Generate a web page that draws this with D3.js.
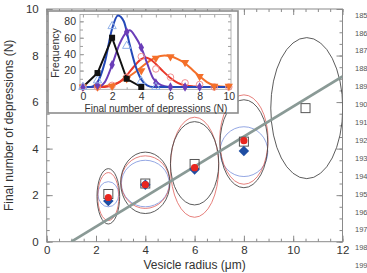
<!DOCTYPE html>
<html lang="en">
<head>
<meta charset="UTF-8">
<title>Depressions vs vesicle radius</title>
<script src="https://cdn.jsdelivr.net/npm/d3@7"></script>
<style>
body{margin:0;background:#fff}
svg{display:block;font-family:"Liberation Sans",Arial,sans-serif}
</style>
</head>
<body>
<svg id="chart" width="367" height="273"></svg>
<script>
// ---- main panel data ----
var radii=[2.5,4,6,8,10.5]
var squareN=[2.05,2.5,3.34,4.3,5.74]
var fitRadii=[2.5,4,6,8]
var redN=[1.9,2.45,3.18,4.34]
var blueN=[1.75,2.45,3.1,3.9]
var fitLineX=[1,12], fitLineY=[0,7.1]

// error ellipses: centre, half-width, half-height (data units)
var blackEllX=[2.5,4,6,8,10.55], blackEllY=[1.95,2.53,3.37,4.21,5.74]
var blackEllRx=[0.46,1.0,0.98,0.97,1.46], blackEllRy=[1.19,1.32,1.79,1.89,3.03]
var redEllX=[2.5,4,6,8], redEllY=[1.94,2.56,3.2,4.39]
var redEllRx=[0.43,0.99,0.98,0.98], redEllRy=[1.03,1.13,2.15,1.92]
var blueEllX=[2.5,4,8], blueEllY=[2.04,2.5,3.87]
var blueEllRx=[0.42,0.97,0.97], blueEllRy=[0.54,1.0,1.07]

var mainXTicks=[0,2,4,6,8,10,12], mainYTicks=[0,2,4,6,8,10]
var lineNums=[185,186,187,188,189,190,191,192,193,194,195,196,197,198,199]

// ---- inset data ----
var insetXTicks=[0,2,4,6,8,10], insetYTicks=[0,20,40,60,80]
var blackPtsX=[0,1,2,3,4], blackPtsY=[0,17,60,10,0]
var blueCurveX=[0,0.5,1,1.5,2,2.4,2.8,3.2,3.6,4,4.4,4.8,5,10]
var blueCurveY=[0,0,6,30,71,87,80,52,26,9,2,0,0,0]
var blueMkX=[0,1,2,3,4,5], blueMkY=[0,8,74,50,7,0]
var purpleCurveX=[0,1,1.5,2,2.5,3,3.2,3.6,4,4.4,4.8,5.2,5.6,6,10]
var purpleCurveY=[0,0,6,27,52,67,69,61,48,29,11,4,1,0,0]
var purpleMkX=[0,1,2,3,4,5,6,7,8], purpleMkY=[0,2,27,67,48,5,0,0,0]
var redCurveX=[0,1.5,2,2.5,3,3.5,4,4.3,4.6,5,5.5,6,6.5,7,7.5,8,10]
var redCurveY=[0,0,2,6,14,25,34,36,34,28,19,11,5,2,1,0,0]
var redMkX=[0,1,2,3,4,5,6,7,8,9,10], redMkY=[0,0,2,12,37,22,12,5,3,0,0]
var orangeCurveX=[0,1,1.5,2,2.5,3,3.5,4,4.5,5,5.6,6,6.5,7,7.5,8,8.5,9,9.5,10]
var orangeCurveY=[0,0,1,3,6,11,17,24,31,36,38.5,37.5,34,29,21,13,6,2,0.5,0]
var orangeMkX=[0,1,2,3,4,5,6,7,8,9,10], orangeMkY=[0,0,1,10,20,35,37,30,13,1,1]

var svg=d3.select('#chart')
var x=d3.scaleLinear().domain([0,12]).range([46.7,342.5])
var y=d3.scaleLinear().domain([0,10]).range([241.7,9])
var frame='#8a8a8a', tickTxt='#333'

var zip=(a,b)=>a.map((v,i)=>[v,b[i]])

svg.append('clipPath').attr('id','mainclip').append('rect')
  .attr('x',x(0)).attr('y',y(10)).attr('width',x(12)-x(0)).attr('height',y(0)-y(10))

// axes, ticks pointing inward
function styleAxis(g){
  g.select('.domain').remove()
  g.selectAll('.tick line').attr('stroke',frame)
  g.selectAll('.tick text').attr('fill',tickTxt).attr('font-size',11.5)
}
var minorX=d3.range(0,12.01,0.5), minorY=d3.range(0,10.01,0.5)
svg.append('g').attr('transform',`translate(0,${y(0)})`)
  .call(d3.axisBottom(x).tickValues(minorX).tickSize(-3).tickFormat('')).call(styleAxis)
svg.append('g').attr('transform',`translate(0,${y(0)})`)
  .call(d3.axisBottom(x).tickValues(mainXTicks).tickSize(-6).tickPadding(4).tickFormat(d3.format('d'))).call(styleAxis)
svg.append('g').attr('transform',`translate(0,${y(10)})`)
  .call(d3.axisTop(x).tickValues(minorX).tickSize(-3).tickFormat('')).call(styleAxis)
svg.append('g').attr('transform',`translate(0,${y(10)})`)
  .call(d3.axisTop(x).tickValues(mainXTicks).tickSize(-6).tickFormat('')).call(styleAxis)
svg.append('g').attr('transform',`translate(${x(0)},0)`)
  .call(d3.axisLeft(y).tickValues(minorY).tickSize(-3).tickFormat('')).call(styleAxis)
svg.append('g').attr('transform',`translate(${x(0)},0)`)
  .call(d3.axisLeft(y).tickValues(mainYTicks).tickSize(-6).tickPadding(8).tickFormat(d3.format('d'))).call(styleAxis)
svg.append('g').attr('transform',`translate(${x(12)},0)`)
  .call(d3.axisRight(y).tickValues(minorY).tickSize(-3).tickFormat('')).call(styleAxis)
svg.append('g').attr('transform',`translate(${x(12)},0)`)
  .call(d3.axisRight(y).tickValues(mainYTicks).tickSize(-6).tickFormat('')).call(styleAxis)
svg.append('rect').attr('x',x(0)).attr('y',y(10)).attr('width',x(12)-x(0)).attr('height',y(0)-y(10))
  .attr('fill','none').attr('stroke',frame).attr('stroke-width',1)

svg.append('text').attr('x',(x(0)+x(12))/2).attr('y',268.5).attr('text-anchor','middle')
  .attr('font-size',12).attr('fill',tickTxt).text('Vesicle radius (μm)')
svg.append('text').attr('transform',`translate(13,${(y(0)+y(10))/2}) rotate(-90)`).attr('text-anchor','middle')
  .attr('font-size',12).attr('fill',tickTxt).text('Final number of depressions (N)')

var plot=svg.append('g').attr('clip-path','url(#mainclip)')

function ellipses(cx,cy,rx,ry,color,w){
  plot.selectAll(null).data(cx.map((v,i)=>({cx:v,cy:cy[i],rx:rx[i],ry:ry[i]}))).join('ellipse')
    .attr('cx',d=>x(d.cx)).attr('cy',d=>y(d.cy))
    .attr('rx',d=>x(d.cx+d.rx)-x(d.cx)).attr('ry',d=>y(d.cy)-y(d.cy+d.ry))
    .attr('fill','none').attr('stroke',color).attr('stroke-width',w)
}
ellipses(blueEllX,blueEllY,blueEllRx,blueEllRy,'#7890dc',0.8)
ellipses(redEllX,redEllY,redEllRx,redEllRy,'#e0605a',0.8)
ellipses(blackEllX,blackEllY,blackEllRx,blackEllRy,'#4a4a4a',0.9)

plot.append('path').datum(zip(fitLineX,fitLineY)).attr('d',d3.line().x(d=>x(d[0])).y(d=>y(d[1])))
  .attr('stroke','#8a9a96').attr('stroke-width',2.6).attr('fill','none')

plot.selectAll(null).data(zip(radii,squareN)).join('rect')
  .attr('x',d=>x(d[0])-4.5).attr('y',d=>y(d[1])-4.5).attr('width',9).attr('height',9)
  .attr('fill','none').attr('stroke','#555').attr('stroke-width',1)
plot.selectAll(null).data(zip(fitRadii,blueN)).join('path')
  .attr('transform',d=>`translate(${x(d[0])},${y(d[1])})`)
  .attr('d',d3.symbol(d3.symbolDiamond2,70)).attr('fill','#1f4ea3')
plot.selectAll(null).data(zip(fitRadii,redN)).join('circle')
  .attr('cx',d=>x(d[0])).attr('cy',d=>y(d[1])).attr('r',3.6).attr('fill','#e8261f')

// line numbers at right margin
var ln=d3.scaleLinear().domain([185,199]).range([15,265.6])
svg.selectAll(null).data(lineNums).join('text')
  .attr('x',355).attr('y',d=>ln(d)).attr('dy','0.35em').attr('font-size',7.5).attr('fill','#555').text(d=>d)

// ---- inset ----
var ins=svg.append('g')
ins.append('rect').attr('x',48).attr('y',11).attr('width',190).attr('height',102)
  .attr('fill','#fff').attr('stroke','#8c8c8c').attr('stroke-width',1.6)
var ix=d3.scaleLinear().domain([-0.2,10.15]).range([80,231])
var iy=d3.scaleLinear().domain([-2.8,88.3]).range([89.3,14.5])
var iframe='#a0a0a0'
function styleI(g){
  g.select('.domain').remove()
  g.selectAll('.tick line').attr('stroke',iframe)
  g.selectAll('.tick text').attr('fill',tickTxt).attr('font-size',10.5)
}
var iMinorX=d3.range(0,10.01,1), iMinorY=d3.range(0,80.01,10)
ins.append('g').attr('transform',`translate(0,${iy.range()[0]})`)
  .call(d3.axisBottom(ix).tickValues(iMinorX).tickSize(-2).tickFormat('')).call(styleI)
ins.append('g').attr('transform',`translate(0,${iy.range()[0]})`)
  .call(d3.axisBottom(ix).tickValues(insetXTicks).tickSize(-4).tickPadding(3).tickFormat(d3.format('d'))).call(styleI)
ins.append('g').attr('transform',`translate(0,${iy.range()[1]})`)
  .call(d3.axisTop(ix).tickValues(iMinorX).tickSize(-3).tickFormat('')).call(styleI)
ins.append('g').attr('transform',`translate(${ix.range()[0]},0)`)
  .call(d3.axisLeft(iy).tickValues(iMinorY).tickSize(-3).tickFormat('')).call(styleI)
ins.append('g').attr('transform',`translate(${ix.range()[0]},0)`)
  .call(d3.axisLeft(iy).tickValues(insetYTicks).tickSize(-4).tickPadding(4).tickFormat(d3.format('d'))).call(styleI)
ins.append('g').attr('transform',`translate(${ix.range()[1]},0)`)
  .call(d3.axisRight(iy).tickValues(iMinorY).tickSize(-3).tickFormat('')).call(styleI)
ins.append('rect').attr('x',80).attr('y',14.5).attr('width',151).attr('height',74.8)
  .attr('fill','none').attr('stroke',iframe).attr('stroke-width',0.8)

ins.append('text').attr('x',156).attr('y',111.5).attr('text-anchor','middle')
  .attr('font-size',10).attr('fill',tickTxt).text('Final number of depressions (N)')
ins.append('text').attr('transform','translate(59,53) rotate(-90)').attr('text-anchor','middle')
  .attr('font-size',10.5).attr('fill',tickTxt).text('Frequency')

var smooth=d3.line().x(d=>ix(d[0])).y(d=>iy(d[1])).curve(d3.curveMonotoneX)
var straight=d3.line().x(d=>ix(d[0])).y(d=>iy(d[1]))
function curve(xs,ys,color,gen){
  ins.append('path').datum(zip(xs,ys)).attr('d',gen).attr('fill','none')
    .attr('stroke',color).attr('stroke-width',2).attr('stroke-linejoin','round')
}
function marks(xs,ys,sym,size,fill,stroke,rot){
  ins.selectAll(null).data(zip(xs,ys)).join('path')
    .attr('transform',d=>`translate(${ix(d[0])},${iy(d[1])}) rotate(${rot||0})`)
    .attr('d',d3.symbol(sym,size)).attr('fill',fill).attr('stroke',stroke).attr('stroke-width',1)
}
curve(orangeCurveX,orangeCurveY,'#f4702a',smooth)
curve(redCurveX,redCurveY,'#e8382a',smooth)
curve(purpleCurveX,purpleCurveY,'#6a3db8',smooth)
curve(blueCurveX,blueCurveY,'#2449b8',smooth)
curve(blackPtsX,blackPtsY,'#111',straight)
marks(redMkX,redMkY,d3.symbolCircle,34,'none','#f39090')
marks(orangeMkX,orangeMkY,d3.symbolTriangle,30,'#f4702a','none',180)
marks(purpleMkX,purpleMkY,d3.symbolDiamond,26,'#6a3db8','none')
marks(blueMkX,blueMkY,d3.symbolTriangle,30,'none','#8fb0e8')
marks(blackPtsX.slice(1),blackPtsY.slice(1),d3.symbolSquare,36,'#111','none')
</script>
</body>
</html>
